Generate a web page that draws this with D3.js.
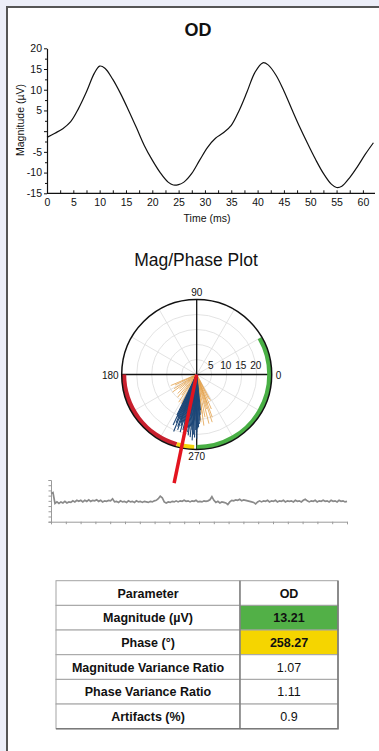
<!DOCTYPE html>
<html>
<head>
<meta charset="utf-8">
<script src="https://cdn.jsdelivr.net/npm/d3@7"></script>
<style>
  html, body { margin: 0; padding: 0; background: #eceef8; }
  svg { display: block; }
  text { font-family: 'Liberation Sans', Arial, sans-serif; fill: #111; }
  .narrow { font-family: 'Liberation Sans Narrow', 'Arial Narrow', 'Liberation Sans', sans-serif; }
</style>
</head>
<body>
<svg id="chart" width="379" height="751"></svg>
<script>
// waveform (top chart)
const waveTime = [0, 1.5, 3, 4.5, 6, 7.5, 9, 10, 11, 12.5, 14, 15.5, 17, 18.5, 20, 21.5, 23, 24, 25, 26, 27.5, 29, 30.5, 32, 33.5, 35, 36.5, 38, 39.5, 41, 42, 43.5, 45, 46.5, 48, 49.5, 51, 52.5, 54, 55, 56, 57.5, 59, 60.5, 62];
const waveMag = [-1.5, -0.5, 0.6, 2.3, 5.5, 9.5, 14.0, 15.7, 15.2, 12.5, 9.0, 5.0, 0.8, -3.5, -7.0, -10.0, -12.3, -13.0, -12.9, -12.3, -10.2, -7.0, -3.9, -1.7, -0.4, 1.4, 5.0, 9.5, 14.2, 16.5, 16.0, 13.5, 9.7, 5.3, 1.0, -3.0, -6.8, -10.2, -12.8, -13.6, -13.3, -11.2, -8.5, -5.5, -2.8];
const waveYTicks = [20, 15, 10, 5, -5, -10, -15];

// polar plot
const ringValues = [5, 10, 15, 20];
const spokeAngles = [30, 60, 120, 150, 210, 240, 300, 330];
const axisLabels = ['0', '90', '180', '270'];
const bandFrom = [30, 180, 254];
const bandTo = [-90, 254, 268];
const bandColor = ['#49b045', '#c8202e', '#f3d40c'];
const orangeAngle = [203, 206, 212, 216, 220, 225, 230, 234, 237, 242, 246, 251, 258, 262, 268, 272, 275, 278, 278, 281, 284, 286, 288, 290, 290, 293, 296, 298, 280, 265, 255, 248];
const orangeMag = [9.4, 8.0, 8.9, 10.0, 7.5, 9.0, 9.9, 8.5, 11.0, 11.0, 12.0, 12.7, 14.6, 13.0, 15.5, 12.0, 16.0, 17.2, 13.2, 14.5, 16.9, 12.0, 16.7, 15.2, 10.4, 12.5, 9.0, 9.8, 7.7, 17.5, 16.0, 13.5];
const blueAngle = [244, 245, 246, 247, 248, 249, 250, 251, 251, 252, 253, 254, 255, 256, 257, 258, 259, 260, 261, 262, 263, 264, 265, 266, 266, 267, 268, 269, 270, 270, 271, 272, 273, 274, 275, 276, 262, 258, 252, 267];
const blueMag = [15.0, 18.6, 15.6, 17.5, 20.5, 16.0, 18.5, 16.2, 19.5, 17.0, 18.0, 20.0, 16.5, 19.0, 19.1, 17.5, 20.5, 18.0, 19.5, 20.5, 17.5, 21.0, 18.5, 22.0, 19.5, 20.0, 21.0, 18.5, 21.4, 19.2, 18.0, 17.6, 16.5, 15.4, 13.5, 12.0, 14.0, 13.0, 12.5, 15.0];
const vecPhase = 258.27;
const vecLength = 37;

// raw trace (bottom strip)
const traceValues = [
  5.4, 5.6, 3.5, 3.8, 3.5, 3.8, 3.6, 3.9, 3.6, 3.8,
  3.7, 4.0, 3.8, 4.1, 3.9, 4.1, 3.8, 4.1, 3.9, 4.2,
  3.9, 4.1, 4.0, 4.2, 3.9, 4.1, 3.8, 4.0, 3.9, 4.1,
  4.0, 4.4, 3.8, 3.9, 3.7, 4.0, 3.8, 3.9, 3.7, 4.0,
  3.8, 3.9, 3.7, 4.0, 3.8, 3.9, 3.7, 3.9, 3.8, 3.7,
  3.9, 3.8, 4.0, 4.1, 4.4, 4.9, 4.6, 3.8, 3.6, 3.8,
  3.7, 3.9, 3.8, 4.0, 3.8, 4.0, 3.9, 4.1, 3.9, 4.0,
  3.8, 4.0, 3.9, 4.1, 3.8, 3.9, 3.8, 4.0, 3.9, 4.0,
  4.2, 4.8, 4.1, 3.7, 3.9, 3.6, 3.8, 3.7, 3.6, 3.3,
  3.8, 4.1, 4.0, 4.2, 4.1, 4.3, 4.0, 4.2, 4.1, 4.0,
  3.9, 3.8, 3.7, 3.4, 3.8, 4.0, 3.8, 4.0, 3.9, 4.1,
  3.8, 4.0, 3.9, 4.1, 3.8, 4.0, 3.9, 4.1, 3.8, 4.0,
  3.9, 4.0, 3.8, 4.1, 3.9, 4.0, 3.8, 4.1, 4.3, 4.0,
  3.8, 4.0, 3.9, 4.1, 3.8, 4.0, 3.9, 4.1, 3.9, 4.0,
  3.8, 4.1, 3.9, 4.0, 3.8, 4.1, 3.9, 4.0, 3.8, 3.9
];

// table
const paramNames = ['Magnitude (µV)', 'Phase (°)', 'Magnitude Variance Ratio', 'Phase Variance Ratio', 'Artifacts (%)'];
const paramValues = ['13.21', '258.27', '1.07', '1.11', '0.9'];
const paramFill = ['#52b047', '#f5d500', null, null, null];
const paramTextColor = ['#fff', '#111', '#222', '#222', '#222'];

const svg = d3.select('#chart');

// white panel
svg.append('rect').attr('x', 7).attr('y', 7).attr('width', 372).attr('height', 744).attr('fill', '#fff');
svg.append('path').attr('d', 'M7,751 V7 H379').attr('fill', 'none').attr('stroke', '#555').attr('stroke-width', 2);

// ---------- waveform ----------
const x = d3.scaleLinear().domain([0, 62.3]).range([47, 375]);
const y = d3.scaleLinear().domain([-15, 20]).range([193.3, 48.3]);

svg.append('text').attr('x', 198).attr('y', 36).attr('text-anchor', 'middle')
  .style('font-size', '18px').style('font-weight', 'bold').text('OD');

const xAxis = svg.append('g').attr('transform', 'translate(0,193.3)')
  .call(d3.axisBottom(x).tickValues(d3.range(0, 61, 2.5)).tickSizeInner(-3).tickSizeOuter(0).tickPadding(5)
    .tickFormat(d => d % 5 === 0 ? d : ''));
const yAxis = svg.append('g').attr('transform', 'translate(47,0)')
  .call(d3.axisLeft(y).tickValues(d3.range(-15, 21, 2.5)).tickSizeInner(3).tickSizeOuter(0).tickPadding(2)
    .tickFormat(d => waveYTicks.includes(d) ? d : ''));
yAxis.selectAll('.tick line').attr('x2', d => d % 5 === 0 ? -3 : -2);
[xAxis, yAxis].forEach(g => {
  g.select('.domain').attr('stroke', '#111').attr('stroke-width', 1.2);
  g.selectAll('.tick line').attr('stroke', '#111');
  g.selectAll('text').attr('class', 'narrow').style('font-size', '10.5px').attr('fill', '#222');
});
xAxis.select('.domain').attr('d', 'M47,0H375');

svg.append('text').attr('class', 'narrow').attr('transform', 'translate(24,120) rotate(-90)')
  .attr('text-anchor', 'middle').style('font-size', '10.5px').text('Magnitude (µV)');
svg.append('text').attr('class', 'narrow').attr('x', 207).attr('y', 222)
  .attr('text-anchor', 'middle').style('font-size', '10.5px').text('Time (ms)');

const wave = d3.line().x((d, i) => x(waveTime[i])).y(d => y(d)).curve(d3.curveCatmullRom.alpha(0.5));
svg.append('path').datum(waveMag).attr('d', wave)
  .attr('fill', 'none').attr('stroke', '#111').attr('stroke-width', 1.2);

// ---------- polar plot ----------
const cx = 196.7, cy = 374.5;
const r = d3.scaleLinear().domain([0, 25]).range([0, 75]);
const px = (a, m) => cx + r(m) * Math.cos(a * Math.PI / 180);
const py = (a, m) => cy - r(m) * Math.sin(a * Math.PI / 180);

svg.append('text').attr('x', 196).attr('y', 266).attr('text-anchor', 'middle')
  .style('font-size', '17.5px').attr('fill', '#222').text('Mag/Phase Plot');

const polar = svg.append('g');
polar.selectAll('.ring').data(ringValues).enter().append('circle')
  .attr('cx', cx).attr('cy', cy).attr('r', d => r(d))
  .attr('fill', 'none').attr('stroke', '#dcdcdc').attr('stroke-width', 0.8);
polar.selectAll('.spoke').data(spokeAngles).enter().append('line')
  .attr('x1', cx).attr('y1', cy).attr('x2', d => px(d, 25)).attr('y2', d => py(d, 25))
  .attr('stroke', '#dcdcdc').attr('stroke-width', 0.8);

polar.append('line').attr('x1', px(180, 25)).attr('y1', cy).attr('x2', px(0, 25)).attr('y2', cy)
  .attr('stroke', '#111').attr('stroke-width', 1.3);
polar.append('line').attr('x1', cx).attr('y1', py(90, 25)).attr('x2', cx).attr('y2', py(270, 25))
  .attr('stroke', '#111').attr('stroke-width', 1.3);

// colored phase band
const band = d3.arc().innerRadius(r(25) - 4.5).outerRadius(r(25));
bandFrom.forEach((a0, i) => {
  const s = (90 - a0) * Math.PI / 180, e = (90 - bandTo[i]) * Math.PI / 180;
  polar.append('path').attr('transform', `translate(${cx},${cy})`)
    .attr('d', band({ startAngle: Math.min(s, e), endAngle: Math.max(s, e) }))
    .attr('fill', bandColor[i]);
});

polar.append('circle').attr('cx', cx).attr('cy', cy).attr('r', r(25))
  .attr('fill', 'none').attr('stroke', '#111').attr('stroke-width', 1.5);

polar.selectAll('.rlab').data(ringValues).enter().append('text')
  .attr('x', d => cx + r(d) - 1).attr('y', cy - 6).attr('text-anchor', 'middle')
  .style('font-size', '10px').attr('fill', '#222').text(d => d);

const labPos = [[px(0, 25) + 4, cy + 4, 'start'], [cx, py(90, 25) - 4, 'middle'],
  [px(180, 25) - 3, cy + 4, 'end'], [cx, py(270, 25) + 10, 'middle']];
axisLabels.forEach((t, i) => {
  polar.append('text').attr('x', labPos[i][0]).attr('y', labPos[i][1]).attr('text-anchor', labPos[i][2])
    .style('font-size', '10px').attr('fill', '#222').text(t);
});

// individual sweep vectors
polar.selectAll('.orange').data(orangeAngle).enter().append('line')
  .attr('x1', cx).attr('y1', cy).attr('x2', (d, i) => px(d, orangeMag[i])).attr('y2', (d, i) => py(d, orangeMag[i]))
  .attr('stroke', '#e3a14a').attr('stroke-width', 0.8);
polar.selectAll('.blue').data(blueAngle).enter().append('line')
  .attr('x1', cx).attr('y1', cy).attr('x2', (d, i) => px(d, blueMag[i])).attr('y2', (d, i) => py(d, blueMag[i]))
  .attr('stroke', '#1d4778').attr('stroke-width', 1.1);

polar.append('line').attr('x1', cx).attr('y1', cy)
  .attr('x2', px(vecPhase, vecLength)).attr('y2', py(vecPhase, vecLength))
  .attr('stroke', '#e3141f').attr('stroke-width', 3.5);

// ---------- raw trace ----------
const tx = d3.scaleLinear().domain([0, traceValues.length - 1]).range([51, 347]);
const ty = d3.scaleLinear().domain([0, 8]).range([521.7, 480]);

const tAxisX = svg.append('g').attr('transform', 'translate(0,521.7)')
  .call(d3.axisBottom(d3.scaleLinear().domain([0, 20]).range([51, 347])).ticks(20).tickSize(2.5).tickFormat(''));
const tAxisY = svg.append('g').attr('transform', 'translate(51,0)')
  .call(d3.axisLeft(ty).ticks(8).tickSize(2.5).tickFormat(''));
[tAxisX, tAxisY].forEach(g => {
  g.select('.domain').attr('stroke', '#9a9a9a');
  g.selectAll('.tick line').attr('stroke', '#9a9a9a');
});

svg.append('path').datum(traceValues)
  .attr('d', d3.line().x((d, i) => tx(i)).y(d => ty(d)))
  .attr('fill', 'none').attr('stroke', '#8a8a8a').attr('stroke-width', 1.7);

// ---------- table ----------
const rowH = 24.67, tTop = 580.7, colX = [56, 240, 338];
const rows = [['Parameter', 'OD', null, '#111', true]].concat(
  paramNames.map((n, i) => [n, paramValues[i], paramFill[i], paramTextColor[i], paramFill[i] !== null]));
const tbl = svg.append('g');
rows.forEach((row, i) => {
  const y0 = tTop + i * rowH;
  tbl.append('rect').attr('x', colX[0]).attr('y', y0).attr('width', colX[1] - colX[0]).attr('height', rowH)
    .attr('fill', '#fff').attr('stroke', '#a3a3a3').attr('stroke-width', 1);
  tbl.append('rect').attr('x', colX[1]).attr('y', y0).attr('width', colX[2] - colX[1]).attr('height', rowH)
    .attr('fill', row[2] || '#fff').attr('stroke', '#a3a3a3').attr('stroke-width', 1);
  tbl.append('text').attr('x', (colX[0] + colX[1]) / 2).attr('y', y0 + rowH / 2 + 4.5)
    .attr('text-anchor', 'middle').style('font-size', '12.5px').style('font-weight', 'bold')
    .attr('fill', '#1a1a1a').text(row[0]);
  tbl.append('text').attr('x', (colX[1] + colX[2]) / 2).attr('y', y0 + rowH / 2 + 4.5)
    .attr('text-anchor', 'middle').style('font-size', '12.5px').style('font-weight', row[4] ? 'bold' : 'normal')
    .attr('fill', row[3]).text(row[1]);
});
tbl.append('path').attr('d', `M${colX[2]},${tTop} V${tTop + rows.length * rowH} H${colX[0]}`)
  .attr('fill', 'none').attr('stroke', '#7a7a7a').attr('stroke-width', 1.6);
tbl.append('line').attr('x1', colX[1]).attr('x2', colX[1]).attr('y1', tTop).attr('y2', tTop + rows.length * rowH)
  .attr('stroke', '#777').attr('stroke-width', 1.2);
</script>
</body>
</html>
